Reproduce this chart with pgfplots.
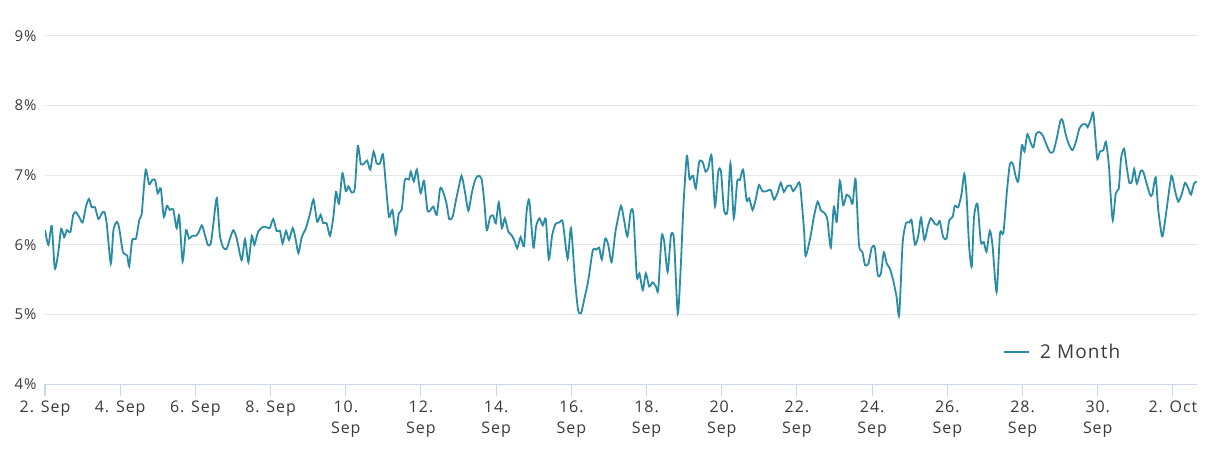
\documentclass[border=0pt]{standalone}
\usepackage{pgfplots}
\pgfplotsset{compat=1.18}
\usepackage{fontspec}
\setmainfont{Open Sans}[LetterSpace=6]
\definecolor{linec}{HTML}{2A8CA4}
\definecolor{gridc}{HTML}{E6E6E6}
\definecolor{axisc}{HTML}{CCD6EB}
\definecolor{labc}{HTML}{3A3A3A}

% days after 2 Sep, rate in percent
\pgfplotstableread{
d v
0.00 6.21
0.09 6.00
0.18 6.27
0.26 5.66
0.35 5.88
0.43 6.23
0.51 6.11
0.58 6.21
0.63 6.19
0.68 6.19
0.75 6.43
0.82 6.47
0.91 6.40
1.00 6.32
1.09 6.55
1.17 6.66
1.24 6.54
1.33 6.54
1.42 6.37
1.51 6.45
1.58 6.47
1.64 6.31
1.75 5.73
1.82 6.21
1.91 6.33
1.97 6.25
2.07 5.90
2.15 5.86
2.19 5.84
2.24 5.69
2.32 6.07
2.42 6.09
2.51 6.36
2.57 6.43
2.61 6.69
2.68 7.08
2.77 6.87
2.85 6.93
2.93 6.93
3.00 6.74
3.08 6.81
3.16 6.40
3.24 6.56
3.32 6.50
3.41 6.51
3.50 6.24
3.57 6.42
3.66 5.76
3.75 6.21
3.83 6.09
3.92 6.13
4.01 6.13
4.08 6.17
4.17 6.28
4.23 6.19
4.33 6.00
4.41 6.02
4.48 6.31
4.57 6.67
4.65 6.14
4.74 5.96
4.83 5.94
4.92 6.09
5.01 6.21
5.10 6.09
5.23 5.78
5.32 6.08
5.41 5.75
5.50 6.13
5.57 6.00
5.67 6.19
5.81 6.26
5.90 6.25
5.98 6.24
6.07 6.37
6.16 6.20
6.25 6.20
6.32 6.02
6.41 6.20
6.49 6.07
6.59 6.24
6.67 6.07
6.74 5.88
6.83 6.11
6.94 6.24
7.05 6.45
7.14 6.65
7.24 6.33
7.33 6.43
7.40 6.31
7.49 6.31
7.58 6.13
7.67 6.40
7.74 6.76
7.82 6.59
7.91 7.03
8.00 6.77
8.07 6.84
8.16 6.75
8.24 6.81
8.32 7.42
8.40 7.16
8.49 7.17
8.57 7.21
8.65 7.08
8.74 7.34
8.82 7.17
8.91 7.17
8.99 7.30
9.07 6.84
9.15 6.40
9.24 6.50
9.33 6.15
9.41 6.45
9.49 6.51
9.57 6.93
9.68 6.94
9.73 7.05
9.81 6.91
9.89 7.08
9.99 6.74
10.08 6.92
10.17 6.50
10.24 6.49
10.33 6.55
10.42 6.43
10.51 6.81
10.59 6.76
10.68 6.59
10.75 6.37
10.84 6.40
10.93 6.64
10.99 6.79
11.08 6.99
11.17 6.76
11.26 6.49
11.35 6.74
11.44 6.93
11.52 6.99
11.61 6.95
11.68 6.64
11.75 6.21
11.84 6.40
11.92 6.42
11.99 6.31
12.07 6.61
12.15 6.24
12.23 6.38
12.32 6.19
12.41 6.14
12.50 6.04
12.56 5.95
12.65 6.11
12.74 5.98
12.81 6.48
12.88 6.64
12.99 5.96
13.06 6.26
13.15 6.38
13.24 6.28
13.32 6.37
13.40 5.79
13.49 6.14
13.58 6.30
13.68 6.32
13.77 6.33
13.90 5.80
13.99 6.24
14.10 5.47
14.18 5.06
14.26 5.02
14.34 5.21
14.45 5.49
14.57 5.92
14.67 5.93
14.74 5.96
14.81 5.79
14.90 6.09
14.98 6.00
15.07 5.75
15.16 6.14
15.20 6.27
15.32 6.56
15.40 6.36
15.49 6.12
15.58 6.48
15.65 6.44
15.74 5.54
15.81 5.59
15.90 5.35
15.98 5.59
16.07 5.40
16.16 5.46
16.25 5.40
16.31 5.35
16.40 6.12
16.47 6.04
16.56 5.61
16.65 6.14
16.73 6.07
16.83 5.01
16.91 5.69
16.98 6.55
17.07 7.28
17.14 6.95
17.20 6.98
17.24 6.99
17.31 6.81
17.40 7.19
17.49 7.19
17.57 7.05
17.64 7.10
17.73 7.28
17.82 6.55
17.91 7.06
17.98 7.05
18.06 6.50
18.15 6.48
18.23 7.17
18.32 6.38
18.41 6.91
18.48 6.93
18.57 7.08
18.66 6.64
18.73 6.67
18.82 6.50
18.91 6.67
18.99 6.86
19.08 6.77
19.19 6.77
19.30 6.79
19.39 6.65
19.48 6.74
19.57 6.89
19.65 6.76
19.74 6.84
19.83 6.85
19.90 6.77
19.99 6.84
20.08 6.87
20.19 6.20
20.23 5.84
20.35 6.09
20.45 6.40
20.55 6.62
20.64 6.49
20.73 6.46
20.81 6.36
20.90 5.96
20.98 6.55
21.06 6.33
21.14 6.92
21.23 6.57
21.32 6.72
21.41 6.68
21.48 6.59
21.56 6.94
21.65 6.00
21.74 5.90
21.81 5.71
21.90 5.73
21.99 5.96
22.07 5.96
22.15 5.57
22.23 5.58
22.31 5.89
22.39 5.73
22.47 5.66
22.56 5.49
22.65 5.25
22.72 4.99
22.81 6.02
22.90 6.31
22.99 6.32
23.05 6.35
23.14 6.00
23.23 6.14
23.30 6.39
23.39 6.07
23.48 6.26
23.56 6.38
23.67 6.30
23.74 6.29
23.80 6.34
23.89 6.11
23.98 6.09
24.05 6.35
24.14 6.40
24.20 6.56
24.29 6.54
24.38 6.74
24.45 7.02
24.51 6.72
24.58 5.97
24.65 5.69
24.71 6.40
24.80 6.59
24.89 6.04
24.97 6.04
25.04 5.90
25.13 6.20
25.20 6.00
25.31 5.32
25.40 6.16
25.49 6.17
25.58 6.74
25.66 7.15
25.74 7.17
25.82 6.98
25.89 6.92
25.98 7.43
26.05 7.34
26.13 7.59
26.22 7.46
26.29 7.40
26.36 7.59
26.44 7.62
26.53 7.58
26.62 7.46
26.73 7.33
26.82 7.34
26.91 7.53
27.01 7.79
27.07 7.78
27.15 7.58
27.24 7.43
27.33 7.36
27.42 7.48
27.51 7.67
27.60 7.73
27.69 7.73
27.73 7.69
27.81 7.79
27.88 7.90
27.95 7.46
27.99 7.23
28.06 7.34
28.15 7.36
28.22 7.48
28.30 7.12
28.34 6.74
28.40 6.35
28.48 6.74
28.56 6.81
28.62 7.24
28.70 7.38
28.77 7.12
28.84 6.89
28.91 6.91
28.97 7.09
29.04 6.88
29.14 7.06
29.21 7.05
29.30 6.88
29.39 6.72
29.45 6.72
29.54 6.97
29.61 6.50
29.70 6.14
29.74 6.16
29.83 6.50
29.96 6.99
30.05 6.79
30.14 6.62
30.23 6.72
30.32 6.89
30.41 6.81
30.48 6.72
30.56 6.88
30.63 6.91
}\twomonth

\begin{document}
\begin{tikzpicture}[x=1pt,y=1pt]
\useasboundingbox (0,0) rectangle (1208,448);
\begin{axis}[
  at={(45pt,64pt)}, anchor=south west,
  scale only axis,
  width=1152pt, height=348pt,
  xmin=0, xmax=30.64,
  ymin=4, ymax=9,
  axis x line*=bottom, axis y line*=left,
  x axis line style={draw=axisc, line width=1pt},
  y axis line style={draw=none},
  ytick={4,5,6,7,8,9},
  yticklabel={\pgfmathprintnumber{\tick}\%},
  ytick style={draw=none},
  ymajorgrids, major grid style={draw=gridc, line width=1pt},
  xtick={0,2,...,30},
  xticklabels={2. Sep,4. Sep,6. Sep,8. Sep,10.\\Sep,12.\\Sep,14.\\Sep,16.\\Sep,
    18.\\Sep,20.\\Sep,22.\\Sep,24.\\Sep,26.\\Sep,28.\\Sep,30.\\Sep,2. Oct},
  xtick style={draw=axisc, line width=1pt},
  tick align=outside, major tick length=12pt,
  xticklabel style={align=center, font=\fontsize{16}{21}\selectfont, text=labc,
    anchor=north, yshift=-1pt},
  yticklabel style={font=\fontsize{15}{17}\selectfont, text=labc, xshift=7pt},
  /pgf/number format/assume math mode=true,
  legend style={at={(0.8835,0.093)}, anchor=center, draw=none, fill=none,
    font=\fontsize{19}{22}\selectfont, text=labc},
  legend image code/.code={\draw[#1] (0pt,0pt) -- (25pt,0pt);},
]
\addplot[linec, line width=1.8pt, smooth, tension=0.4] table[x=d, y=v] {\twomonth};
\addlegendentry{\hspace{8pt}2 Month}
\end{axis}
\end{tikzpicture}
\end{document}
